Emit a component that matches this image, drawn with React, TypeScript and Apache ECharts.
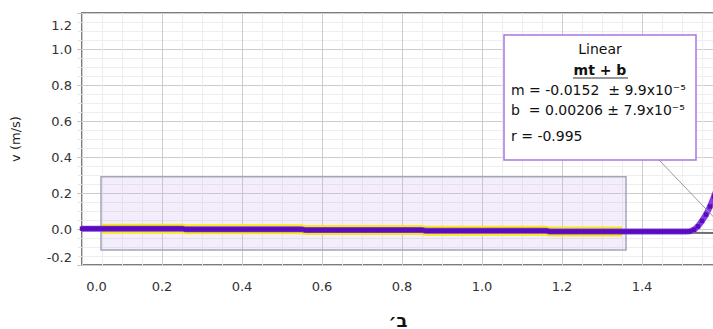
import React, { useEffect, useRef } from "react";
import * as echarts from "echarts";

// time (s)
const times: number[] = [
  0.0, 0.01, 0.02, 0.03, 0.04, 0.05, 0.06, 0.07, 0.08, 0.09,
  0.1, 0.11, 0.12, 0.13, 0.14, 0.15, 0.16, 0.17, 0.18, 0.19,
  0.2, 0.21, 0.22, 0.23, 0.24, 0.25, 0.26, 0.27, 0.28, 0.29,
  0.3, 0.31, 0.32, 0.33, 0.34, 0.35, 0.36, 0.37, 0.38, 0.39,
  0.4, 0.41, 0.42, 0.43, 0.44, 0.45, 0.46, 0.47, 0.48, 0.49,
  0.5, 0.51, 0.52, 0.53, 0.54, 0.55, 0.56, 0.57, 0.58, 0.59,
  0.6, 0.61, 0.62, 0.63, 0.64, 0.65, 0.66, 0.67, 0.68, 0.69,
  0.7, 0.71, 0.72, 0.73, 0.74, 0.75, 0.76, 0.77, 0.78, 0.79,
  0.8, 0.81, 0.82, 0.83, 0.84, 0.85, 0.86, 0.87, 0.88, 0.89,
  0.9, 0.91, 0.92, 0.93, 0.94, 0.95, 0.96, 0.97, 0.98, 0.99,
  1.0, 1.01, 1.02, 1.03, 1.04, 1.05, 1.06, 1.07, 1.08, 1.09,
  1.1, 1.11, 1.12, 1.13, 1.14, 1.15, 1.16, 1.17, 1.18, 1.19,
  1.2, 1.21, 1.22, 1.23, 1.24, 1.25, 1.26, 1.27, 1.28, 1.29,
  1.3, 1.31, 1.32, 1.33, 1.34, 1.35, 1.36, 1.37, 1.38, 1.39,
  1.4, 1.41, 1.42, 1.43, 1.44, 1.45, 1.46, 1.47, 1.48, 1.49,
  1.5, 1.51, 1.52, 1.53, 1.54, 1.55, 1.56, 1.57, 1.58, 1.59,
  1.6, 1.61,
];

// velocity v (m/s)
const velocity: number[] = [
  0.002, 0.002, 0.002, 0.002, 0.002, 0.002, 0.002, 0.002, 0.002, 0.002,
  0.002, 0.002, 0.002, 0.002, 0.002, 0.002, 0.002, 0.002, 0.002, 0.002,
  0.002, 0.002, 0.002, 0.002, 0.002, 0.002, -0.002, -0.002, -0.002, -0.002,
  -0.002, -0.002, -0.002, -0.002, -0.002, -0.002, -0.002, -0.002, -0.002, -0.002,
  -0.002, -0.002, -0.002, -0.002, -0.002, -0.002, -0.002, -0.002, -0.002, -0.002,
  -0.002, -0.002, -0.002, -0.002, -0.002, -0.002, -0.006, -0.006, -0.006, -0.006,
  -0.006, -0.006, -0.006, -0.006, -0.006, -0.006, -0.006, -0.006, -0.006, -0.006,
  -0.006, -0.006, -0.006, -0.006, -0.006, -0.006, -0.006, -0.006, -0.006, -0.006,
  -0.006, -0.006, -0.006, -0.006, -0.006, -0.006, -0.010, -0.010, -0.010, -0.010,
  -0.010, -0.010, -0.010, -0.010, -0.010, -0.010, -0.010, -0.010, -0.010, -0.010,
  -0.010, -0.010, -0.010, -0.010, -0.010, -0.010, -0.010, -0.010, -0.010, -0.010,
  -0.010, -0.010, -0.010, -0.010, -0.010, -0.010, -0.010, -0.014, -0.014, -0.014,
  -0.014, -0.014, -0.014, -0.014, -0.014, -0.014, -0.014, -0.014, -0.014, -0.014,
  -0.014, -0.014, -0.014, -0.014, -0.014, -0.014, -0.014, -0.014, -0.014, -0.014,
  -0.014, -0.014, -0.014, -0.014, -0.014, -0.014, -0.014, -0.014, -0.014, -0.014,
  -0.014, -0.014, -0.013, -0.004, 0.015, 0.045, 0.08, 0.125, 0.18, 0.24,
  0.3, 0.37,
];

// linear fit selection
const fitStartIndex = 5;
const fitEndIndex = 135;
const fitLineX: number[] = [0.0, 1.7];
const fitLineY: number[] = [0.00206, -0.0238];
const selectionX: number[] = [0.0475, 1.36];
const selectionY: number[] = [0.29, -0.117];

const xTickLabels: string[] = ["0.0", "0.2", "0.4", "0.6", "0.8", "1.0", "1.2", "1.4", "1.6"];
const yTickLabels: string[] = ["-0.2", "0.0", "0.2", "0.4", "0.6", "0.8", "1.0", "1.2"];

const fitTitle = "Linear";
const fitFormula = "mt + b";
const fitLines: string[] = [
  "m = -0.0152  ± 9.9x10⁻⁵",
  "b  = 0.00206 ± 7.9x10⁻⁵",
  "r = -0.995",
];

const FONT = "DejaVu Sans";

export default function App() {
  const ref = useRef<HTMLDivElement>(null);

  useEffect(() => {
    if (!ref.current) return;
    const chart = echarts.init(ref.current, undefined, { renderer: "svg" });
    const data = times.map((t, i) => [t, velocity[i]]);
    const selData = data.slice(fitStartIndex, fitEndIndex + 1);
    const fitData = fitLineX.map((x, i) => [x, fitLineY[i]]);

    const labelText = (list: string[], v: number) => {
      const s = v.toFixed(1) === "-0.0" ? "0.0" : v.toFixed(1);
      return list.includes(s) ? s : "";
    };

    const boxText = (text: string, x: number, y: number, bold = false, align = "left") => ({
      type: "text",
      x,
      y,
      style: {
        text,
        font: `${bold ? "bold " : ""}14px "${FONT}"`,
        fill: "#111",
        align,
        verticalAlign: "middle",
      },
      z: 12,
    });

    chart.setOption({
      animation: false,
      grid: {
        left: 82,
        top: 13,
        width: 680,
        height: 252,
        show: true,
        borderColor: "#7d7d7d",
        borderWidth: 2,
        backgroundColor: "transparent",
      },
      xAxis: {
        type: "value",
        min: 0,
        max: 1.7,
        interval: 0.2,
        axisLine: { show: false },
        axisTick: { show: true, length: 5, lineStyle: { color: "#c4c4c4" } },
        minorTick: { show: true, splitNumber: 4, length: 4, lineStyle: { color: "#e2e2e2" } },
        splitLine: { show: true, lineStyle: { color: "#cdcdcd", width: 1 } },
        minorSplitLine: { show: true, lineStyle: { color: "#eeeeee", width: 1 } },
        axisLabel: {
          color: "#333",
          fontFamily: FONT,
          fontSize: 13,
          margin: 15,
          showMaxLabel: false,
          formatter: (v: number) => {
            const s = labelText(xTickLabels, v);
            if (s === "0.0") return "{first|0.0}";
            return s;
          },
          rich: {
            first: { color: "#333", fontFamily: FONT, fontSize: 13, padding: [0, 0, 0, 29] },
          },
        },
      },
      yAxis: {
        type: "value",
        min: -0.2,
        max: 1.2,
        interval: 0.2,
        axisLine: { show: false },
        axisTick: { show: true, length: 5, lineStyle: { color: "#c4c4c4" } },
        minorTick: { show: true, splitNumber: 4, length: 4, lineStyle: { color: "#e2e2e2" } },
        splitLine: { show: true, lineStyle: { color: "#cdcdcd", width: 1 } },
        minorSplitLine: { show: true, lineStyle: { color: "#eeeeee", width: 1 } },
        name: "v (m/s)",
        nameLocation: "middle",
        nameGap: 60,
        nameTextStyle: { color: "#222", fontFamily: FONT, fontSize: 13 },
        axisLabel: {
          color: "#333",
          fontFamily: FONT,
          fontSize: 13,
          margin: 10,
          formatter: (v: number) => {
            const s = labelText(yTickLabels, v);
            if (s === "1.2") return "{top|1.2}";
            if (s === "-0.2") return "{bot|-0.2}";
            return s;
          },
          rich: {
            top: { color: "#333", fontFamily: FONT, fontSize: 13, padding: [24, 0, 0, 0] },
            bot: { color: "#333", fontFamily: FONT, fontSize: 13, padding: [0, 0, 15, 0] },
          },
        },
      },
      series: [
        {
          type: "line",
          data: selData,
          showSymbol: false,
          lineStyle: { color: "#f8e815", width: 10 },
          z: 2,
          markArea: {
            silent: true,
            itemStyle: {
              color: "rgba(185,150,235,0.16)",
              borderColor: "#a3a7b6",
              borderWidth: 1.5,
            },
            data: [
              [
                { coord: [selectionX[0], selectionY[0]] },
                { coord: [selectionX[1], selectionY[1]] },
              ],
            ],
          },
        },
        {
          type: "line",
          data: fitData,
          showSymbol: false,
          lineStyle: { color: "#707070", width: 2 },
          z: 3,
        },
        {
          type: "line",
          data: data,
          symbol: "rect",
          symbolSize: 4.5,
          showSymbol: true,
          itemStyle: { color: "#5a0cbd" },
          lineStyle: { color: "#8440e4", width: 6 },
          z: 4,
        },
      ],
      graphic: [
        {
          type: "line",
          shape: { x1: 659, y1: 160, x2: 727, y2: 231 },
          style: { stroke: "#9a9a9a", lineWidth: 1 },
          z: 10,
        },
        {
          type: "rect",
          shape: { x: 504, y: 35, width: 192, height: 125 },
          style: { fill: "#ffffff", stroke: "#ac74e4", lineWidth: 1.5 },
          z: 11,
        },
        boxText(fitTitle, 600, 49, false, "center"),
        boxText(fitFormula, 600, 70, true, "center"),
        {
          type: "line",
          shape: { x1: 573, y1: 78, x2: 628, y2: 78 },
          style: { stroke: "#333", lineWidth: 1 },
          z: 12,
        },
        boxText(fitLines[0], 511, 90),
        boxText(fitLines[1], 511, 110),
        boxText(fitLines[2], 511, 136),
        {
          type: "text",
          x: 398,
          y: 320,
          style: {
            text: "ב׳",
            font: `bold 18px "${FONT}"`,
            fill: "#111",
            align: "center",
            verticalAlign: "middle",
          },
          z: 12,
        },
      ],
    });
    return () => chart.dispose();
  }, []);

  return (
    <div
      style={{
        position: "fixed",
        left: 0,
        top: 0,
        width: 713,
        height: 329,
        overflow: "hidden",
        background: "#fff",
      }}
    >
      <div ref={ref} style={{ width: 780, height: 329 }} />
    </div>
  );
}
